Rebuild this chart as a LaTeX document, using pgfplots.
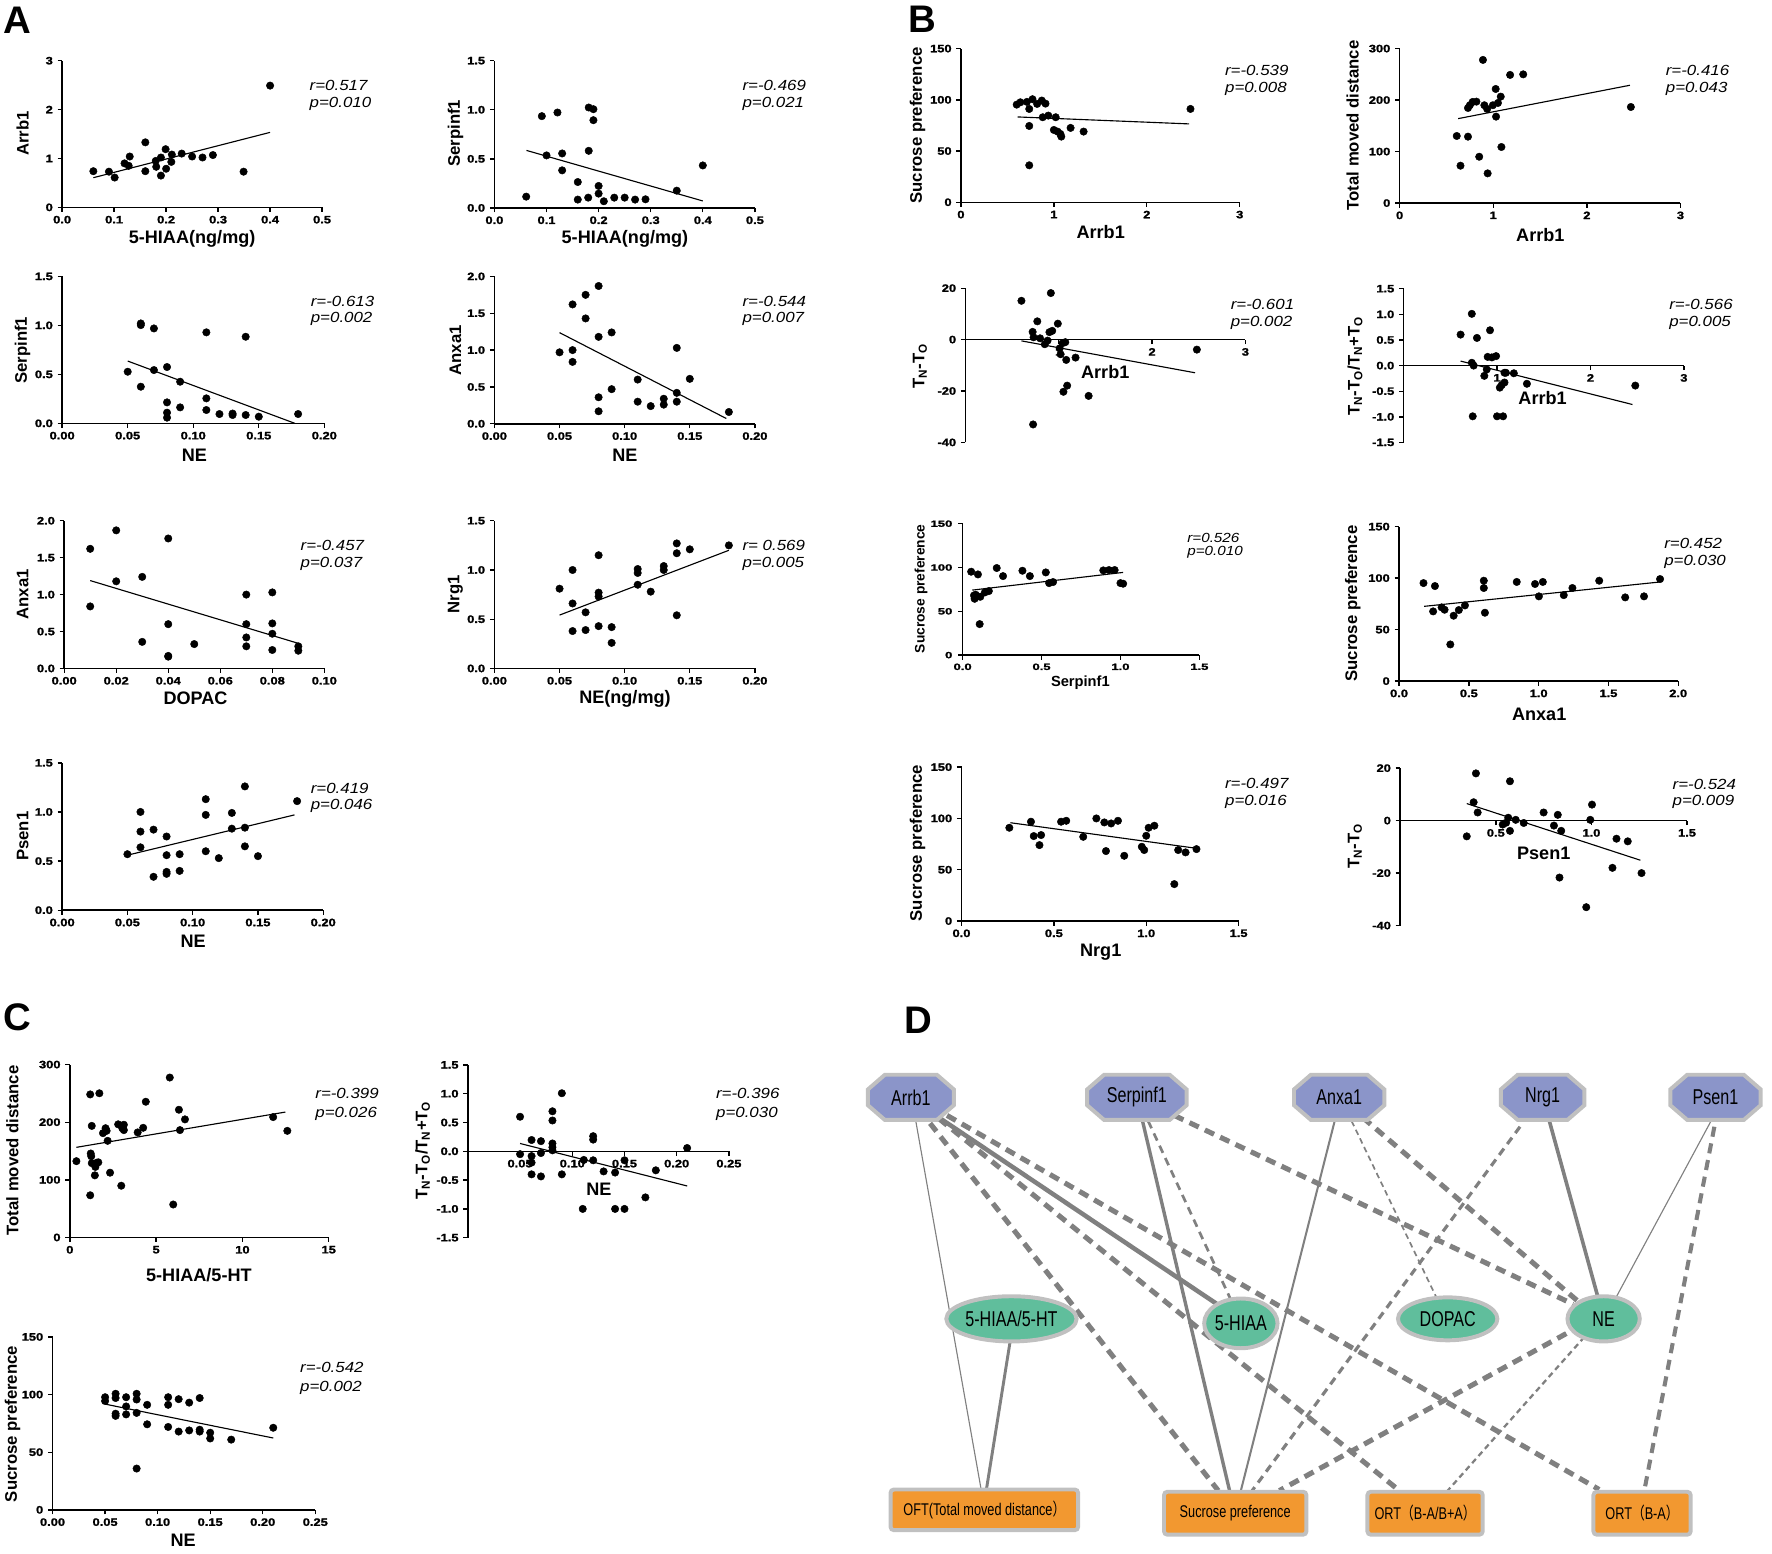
\documentclass[border=0pt]{standalone}
\usepackage{fontspec}
\setmainfont{Liberation Sans}
\newfontfamily\cjk{Noto Sans CJK SC}
\newfontfamily\tickfont[FakeBold=1.5]{Liberation Sans}
\usepackage{graphicx}
\usepackage{pgfplots}
\pgfplotsset{compat=1.18}
\usetikzlibrary{shapes.geometric}

\definecolor{edgegray}{RGB}{128,128,128}
\definecolor{octfill}{RGB}{139,149,201}
\definecolor{rimgray}{RGB}{192,192,192}
\definecolor{ellfill}{RGB}{96,190,156}
\definecolor{boxfill}{RGB}{242,152,48}

\newcommand{\fs}[1]{\fontsize{#1}{#1}\selectfont}

\pgfplotsset{
  prism/.style={
    scale only axis, clip=false, anchor=south west,
    axis y line*=left, axis x line*=bottom,
    axis line style={-, line width=1.3pt, black},
    tick align=outside, major tick length=4pt,
    tick style={black, line width=1.2pt},
    tick label style={font=\tickfont\bfseries\fs{9.5}, xscale=1.2},
    hide obscured x ticks=false, hide obscured y ticks=false,
  },
  dots/.style={only marks, mark=*, mark size=3.3pt, black},
  fit/.style={black, line width=1pt},
  thickdash/.style={edgegray, line width=4.5pt, dash pattern=on 9pt off 6pt},
}

% labels placed in picture units (1pt = 1 unit)
\newcommand{\xl}[3]{\node[font=\bfseries\fs{16}] at (#1pt,-#2pt) {#3};}
\newcommand{\yl}[3]{\node[font=\bfseries\fs{14.8}, rotate=90] at (#1pt,-#2pt) {#3};}
\newcommand{\rp}[5]{%
  \node[font=\itshape\fs{13}, xscale=1.15, anchor=west] at (#1pt,-#2pt) {#4};
  \node[font=\itshape\fs{13}, xscale=1.15, anchor=west] at (#1pt,-#3pt) {#5};}
\newcommand{\TT}{T\textsubscript{N}-T\textsubscript{O}}
\newcommand{\TTr}{T\textsubscript{N}-T\textsubscript{O}/T\textsubscript{N}+T\textsubscript{O}}

% network panel helpers
\newcommand{\dtext}[2]{\scalebox{0.75}[1]{\fs{#1}#2}}
\newcommand{\octnode}[5]{%
  \pgfmathsetmacro\xa{#1-#3/2}\pgfmathsetmacro\xb{#1-#3/2+15}%
  \pgfmathsetmacro\xc{#1+#3/2-15}\pgfmathsetmacro\xd{#1+#3/2}%
  \pgfmathsetmacro\ya{#2-#4/2}\pgfmathsetmacro\yb{#2-#4/2+13}%
  \pgfmathsetmacro\yc{#2+#4/2-13}\pgfmathsetmacro\yd{#2+#4/2}%
  \addplot[fill=octfill, draw=rimgray, line width=3.5pt] coordinates {(\xb,\ya) (\xc,\ya) (\xd,\yb) (\xd,\yc) (\xc,\yd) (\xb,\yd) (\xa,\yc) (\xa,\yb)} -- cycle;
  \node at (axis cs:#1,#2) {\dtext{19}{#5}};}
\newcommand{\ellnode}[5]{%
  \node[ellipse, fill=ellfill, draw=rimgray, line width=3.5pt, minimum width=#3pt, minimum height=#4pt, inner sep=0pt] at (axis cs:#1,#2) {\dtext{19}{#5}};}
\newcommand{\boxnode}[5]{%
  \node[rectangle, rounded corners=3pt, fill=boxfill, draw=rimgray, line width=3.5pt, minimum width=#3pt, minimum height=#4pt, inner sep=0pt] at (axis cs:#1,#2) {\dtext{15}{#5}};}

\begin{document}
\begin{tikzpicture}
\path[use as bounding box] (0,0) rectangle (1568pt,-1375pt);

% ---------------- A ----------------
\begin{axis}[prism, at={(55pt,-183.5pt)}, width=230pt, height=129.8pt,
  xmin=0, xmax=0.5, ymin=0, ymax=3,
  xtick={0,0.1,0.2,0.3,0.4,0.5}, xticklabels={0.0,0.1,0.2,0.3,0.4,0.5},
  ytick={0,1,2,3}, yticklabels={0,1,2,3}]
\addplot[dots] coordinates {(0.060,0.74) (0.090,0.73) (0.101,0.61) (0.120,0.90) (0.128,0.85) (0.130,1.04) (0.160,1.33) (0.160,0.74) (0.180,0.95) (0.181,0.83) (0.190,1.02) (0.190,0.65) (0.199,1.19) (0.200,0.79) (0.210,0.93) (0.211,1.08) (0.230,1.10) (0.250,1.04) (0.270,1.02) (0.290,1.07) (0.349,0.73) (0.400,2.49)};
\addplot[fit] coordinates {(0.06,0.607) (0.40,1.534)};
\end{axis}

\begin{axis}[prism, at={(437.5pt,-184pt)}, width=230.5pt, height=130.3pt,
  xmin=0, xmax=0.5, ymin=0, ymax=1.5,
  xtick={0,0.1,0.2,0.3,0.4,0.5}, xticklabels={0.0,0.1,0.2,0.3,0.4,0.5},
  ytick={0,0.5,1,1.5}, yticklabels={0.0,0.5,1.0,1.5}]
\addplot[dots] coordinates {(0.061,0.115) (0.091,0.935) (0.100,0.535) (0.121,0.972) (0.130,0.555) (0.130,0.383) (0.160,0.264) (0.160,0.085) (0.181,0.582) (0.181,1.023) (0.190,1.006) (0.190,0.894) (0.180,0.105) (0.200,0.224) (0.200,0.146) (0.210,0.068) (0.230,0.105) (0.250,0.105) (0.270,0.085) (0.290,0.088) (0.350,0.176) (0.400,0.433)};
\addplot[fit] coordinates {(0.0615,0.586) (0.40,0.071)};
\end{axis}

\begin{axis}[prism, at={(55pt,-374.6pt)}, width=232pt, height=130pt,
  xmin=0, xmax=0.2, ymin=0, ymax=1.5,
  xtick={0,0.05,0.1,0.15,0.2}, xticklabels={0.00,0.05,0.10,0.15,0.20},
  ytick={0,0.5,1,1.5}, yticklabels={0.0,0.5,1.0,1.5}]
\addplot[dots] coordinates {(0.050,0.527) (0.060,1.003) (0.060,1.02) (0.060,0.374) (0.070,0.969) (0.070,0.544) (0.080,0.575) (0.080,0.214) (0.080,0.109) (0.080,0.058) (0.090,0.425) (0.090,0.163) (0.110,0.929) (0.110,0.255) (0.110,0.136) (0.120,0.095) (0.130,0.085) (0.130,0.100) (0.140,0.085) (0.140,0.884) (0.150,0.068) (0.180,0.095)};
\addplot[fit] coordinates {(0.05,0.636) (0.1775,0)};
\end{axis}

\begin{axis}[prism, at={(437.5pt,-375pt)}, width=230.5pt, height=130.4pt,
  xmin=0, xmax=0.2, ymin=0, ymax=2,
  xtick={0,0.05,0.1,0.15,0.2}, xticklabels={0.00,0.05,0.10,0.15,0.20},
  ytick={0,0.5,1,1.5,2}, yticklabels={0.0,0.5,1.0,1.5,2.0}]
\addplot[dots] coordinates {(0.050,0.97) (0.060,1.62) (0.060,1.00) (0.060,0.84) (0.070,1.75) (0.070,1.43) (0.080,1.87) (0.080,1.18) (0.080,0.36) (0.080,0.17) (0.090,1.24) (0.090,0.47) (0.110,0.60) (0.110,0.30) (0.120,0.24) (0.130,0.34) (0.130,0.26) (0.140,1.03) (0.140,0.42) (0.140,0.30) (0.150,0.61) (0.180,0.16)};
\addplot[fit] coordinates {(0.05,1.237) (0.178,0.072)};
\end{axis}

\begin{axis}[prism, at={(56.8pt,-591.5pt)}, width=230.2pt, height=130.7pt,
  xmin=0, xmax=0.1, ymin=0, ymax=2,
  xtick={0,0.02,0.04,0.06,0.08,0.1}, xticklabels={0.00,0.02,0.04,0.06,0.08,0.10},
  ytick={0,0.5,1,1.5,2}, yticklabels={0.0,0.5,1.0,1.5,2.0}]
\addplot[dots] coordinates {(0.010,1.62) (0.010,0.84) (0.020,1.87) (0.020,1.18) (0.030,1.24) (0.030,0.36) (0.040,1.76) (0.040,0.60) (0.040,0.17) (0.040,0.16) (0.050,0.33) (0.070,1.00) (0.070,0.60) (0.070,0.42) (0.070,0.30) (0.080,1.03) (0.080,0.61) (0.080,0.47) (0.080,0.25) (0.090,0.30) (0.090,0.24)};
\addplot[fit] coordinates {(0.01,1.19) (0.09,0.34)};
\end{axis}

\begin{axis}[prism, at={(437.5pt,-591.5pt)}, width=230.5pt, height=130.7pt,
  xmin=0, xmax=0.2, ymin=0, ymax=1.5,
  xtick={0,0.05,0.1,0.15,0.2}, xticklabels={0.00,0.05,0.10,0.15,0.20},
  ytick={0,0.5,1,1.5}, yticklabels={0.0,0.5,1.0,1.5}]
\addplot[dots] coordinates {(0.050,0.81) (0.060,1.00) (0.060,0.66) (0.060,0.38) (0.070,0.57) (0.070,0.39) (0.080,1.15) (0.080,0.77) (0.080,0.73) (0.080,0.43) (0.090,0.42) (0.090,0.26) (0.110,1.01) (0.110,0.97) (0.110,0.85) (0.120,0.78) (0.130,1.04) (0.130,1.00) (0.140,1.27) (0.140,1.17) (0.140,0.54) (0.150,1.21) (0.180,1.25)};
\addplot[fit] coordinates {(0.05,0.542) (0.18,1.20)};
\end{axis}

\begin{axis}[prism, at={(55pt,-805.4pt)}, width=231pt, height=130.4pt,
  xmin=0, xmax=0.2, ymin=0, ymax=1.5,
  xtick={0,0.05,0.1,0.15,0.2}, xticklabels={0.00,0.05,0.10,0.15,0.20},
  ytick={0,0.5,1,1.5}, yticklabels={0.0,0.5,1.0,1.5}]
\addplot[dots] coordinates {(0.050,0.57) (0.060,1.00) (0.060,0.80) (0.060,0.64) (0.070,0.82) (0.070,0.34) (0.080,0.75) (0.080,0.56) (0.080,0.39) (0.080,0.37) (0.090,0.57) (0.090,0.40) (0.110,1.13) (0.110,0.97) (0.110,0.60) (0.120,0.53) (0.130,0.99) (0.130,0.83) (0.140,1.26) (0.140,0.84) (0.140,0.65) (0.150,0.55) (0.180,1.11)};
\addplot[fit] coordinates {(0.05,0.56) (0.178,0.97)};
\end{axis}

% ---------------- B ----------------
\begin{axis}[prism, at={(850.3pt,-179pt)}, width=246.7pt, height=136pt,
  xmin=0, xmax=3, ymin=0, ymax=150,
  xtick={0,1,2,3}, xticklabels={0,1,2,3},
  ytick={0,50,100,150}, yticklabels={0,50,100,150}]
\addplot[dots] coordinates {(0.60,95.3) (0.64,97.6) (0.71,98) (0.735,74.5) (0.735,36.1) (0.735,91.1) (0.77,100.6) (0.82,96) (0.87,99.3) (0.91,96.3) (0.88,83) (0.94,84.6) (1.02,83) (1.00,70.6) (1.04,69) (1.07,66.7) (1.08,64.1) (1.18,72.6) (1.32,69) (2.47,91.1)};
\addplot[fit] coordinates {(0.61,83.3) (2.455,76.5)};
\end{axis}

\begin{axis}[prism, at={(1238.5pt,-179.7pt)}, width=248.5pt, height=136.7pt,
  xmin=0, xmax=3, ymin=0, ymax=300,
  xtick={0,1,2,3}, xticklabels={0,1,2,3},
  ytick={0,100,200,300}, yticklabels={0,100,200,300}]
\addplot[dots] coordinates {(0.61,130.3) (0.65,72.6) (0.73,129) (0.73,184.7) (0.75,190) (0.78,196.4) (0.82,197) (0.85,90) (0.89,278) (0.905,190) (0.935,182.8) (0.94,57.7) (0.996,190) (1.026,221.6) (1.03,167.9) (1.05,194.4) (1.08,206.7) (1.087,108.9) (1.18,248.9) (1.32,250) (2.47,186.6)};
\addplot[fit] coordinates {(0.625,164) (2.46,228.8)};
\end{axis}

\begin{axis}[prism, axis x line*=middle, at={(854.3pt,-391.5pt)}, width=247.7pt, height=136.5pt,
  xmin=0, xmax=3, ymin=-40, ymax=20,
  xtick={1,2,3}, xticklabels={1,2,3},
  ytick={-40,-20,0,20}, yticklabels={-40,-20,0,20}]
\addplot[dots] coordinates {(0.60,15.1) (0.72,3.0) (0.73,0.9) (0.725,-33) (0.77,7.1) (0.80,0.5) (0.85,-1.8) (0.88,-0.4) (0.90,2.9) (0.915,18.1) (0.93,3.4) (0.99,6.2) (1.01,-3.4) (1.02,-5.7) (1.04,-1.4) (1.05,-20.3) (1.07,-1.0) (1.08,-7.9) (1.09,-17.9) (1.18,-7.0) (1.32,-21.9) (2.48,-3.9)};
\addplot[fit] coordinates {(0.60,-0.5) (2.46,-12.9)};
\end{axis}

\begin{axis}[prism, axis x line*=middle, at={(1242pt,-391.5pt)}, width=248pt, height=136pt,
  xmin=0, xmax=3, ymin=-1.5, ymax=1.5,
  xtick={1,2,3}, xticklabels={1,2,3},
  ytick={-1.5,-1,-0.5,0,0.5,1,1.5}, yticklabels={-1.5,-1.0,-0.5,0.0,0.5,1.0,1.5}]
\addplot[dots] coordinates {(0.61,0.605) (0.73,1.01) (0.73,0.055) (0.75,0.0) (0.74,-0.99) (0.785,0.54) (0.864,-0.20) (0.89,-0.075) (0.90,0.17) (0.925,0.69) (0.945,0.16) (0.99,0.185) (1.00,-0.99) (1.03,-0.43) (1.05,-0.38) (1.065,-0.99) (1.08,-0.33) (1.08,-0.14) (1.095,-0.14) (1.18,-0.15) (1.32,-0.355) (2.48,-0.39)};
\addplot[fit] coordinates {(0.61,0.088) (2.45,-0.76)};
\end{axis}

\begin{axis}[prism, at={(851.8pt,-579.7pt)}, width=209.5pt, height=116.3pt,
  tick label style={font=\tickfont\bfseries\fs{8}, xscale=1.2},
  xmin=0, xmax=1.5, ymin=0, ymax=150,
  xtick={0,0.5,1,1.5}, xticklabels={0.0,0.5,1.0,1.5},
  ytick={0,50,100,150}, yticklabels={0,50,100,150}]
\addplot[dots] coordinates {(0.054,95.2) (0.072,68.1) (0.076,64.3) (0.083,68.9) (0.09,66.6) (0.097,92.1) (0.108,35.4) (0.112,66.6) (0.141,71.6) (0.166,73.1) (0.216,99.4) (0.256,90.2) (0.379,96.3) (0.426,90.2) (0.527,94.4) (0.548,82.2) (0.573,83.4) (0.891,96.7) (0.927,97.1) (0.963,97.1) (1.00,82.2) (1.017,81.5)};
\addplot[fit] coordinates {(0.061,74.2) (1.017,94.4)};
\end{axis}

\begin{axis}[prism, at={(1238pt,-602.7pt)}, width=247pt, height=136.7pt,
  xmin=0, xmax=2, ymin=0, ymax=150,
  xtick={0,0.5,1,1.5,2}, xticklabels={0.0,0.5,1.0,1.5,2.0},
  ytick={0,50,100,150}, yticklabels={0,50,100,150}]
\addplot[dots] coordinates {(0.175,95.2) (0.244,67.7) (0.257,92.3) (0.305,71.6) (0.326,69.3) (0.367,35.6) (0.391,63.5) (0.428,69) (0.472,73.5) (0.607,97.5) (0.607,90.4) (0.615,66.4) (0.843,96.3) (0.974,94.3) (1.002,82.3) (1.03,96.3) (1.18,83.5) (1.242,90.4) (1.434,97.5) (1.62,81.3) (1.755,82.3) (1.87,99.1)};
\addplot[fit] coordinates {(0.179,72.6) (1.866,96.2)};
\end{axis}

\begin{axis}[prism, at={(850.8pt,-815pt)}, width=245.2pt, height=136.2pt,
  xmin=0, xmax=1.5, ymin=0, ymax=150,
  xtick={0,0.5,1,1.5}, xticklabels={0.0,0.5,1.0,1.5},
  ytick={0,50,100,150}, yticklabels={0,50,100,150}]
\addplot[dots] coordinates {(0.259,90.9) (0.376,96.8) (0.391,82.8) (0.422,74.0) (0.431,83.8) (0.539,96.8) (0.567,97.7) (0.659,82.1) (0.730,100) (0.773,96.1) (0.782,68.2) (0.81,95.1) (0.847,97.7) (0.881,63.6) (0.976,72.4) (0.989,69.2) (1.00,83.1) (1.013,90.9) (1.044,92.9) (1.152,36.0) (1.173,69.2) (1.213,66.9) (1.272,70.1)};
\addplot[fit] coordinates {(0.265,95.8) (1.275,70.8)};
\end{axis}

\begin{axis}[prism, axis x line*=middle, at={(1239pt,-819pt)}, width=253.8pt, height=139.3pt,
  xmin=0, xmax=1.5, ymin=-40, ymax=20,
  xtick={0.5,1,1.5}, xticklabels={0.5,1.0,1.5},
  ytick={-40,-20,0,20}, yticklabels={-40,-20,0,20}]
\addplot[dots] coordinates {(0.348,-6.0) (0.384,7.0) (0.396,18.0) (0.405,3.1) (0.536,-1.5) (0.554,-0.8) (0.565,1.1) (0.574,15.0) (0.574,-3.9) (0.604,0.3) (0.646,-0.9) (0.75,3.1) (0.804,-1.9) (0.824,2.2) (0.833,-21.7) (0.842,-3.9) (0.973,-33) (0.994,0.3) (1.003,6.1) (1.11,-18.0) (1.131,-6.9) (1.19,-7.9) (1.262,-20)};
\addplot[fit] coordinates {(0.348,6.5) (1.256,-15.1)};
\end{axis}

% ---------------- C ----------------
\begin{axis}[prism, at={(61.8pt,-1095pt)}, width=229.1pt, height=153pt,
  xmin=0, xmax=15, ymin=0, ymax=300,
  xtick={0,5,10,15}, xticklabels={0,5,10,15},
  ytick={0,100,200,300}, yticklabels={0,100,200,300}]
\addplot[dots] coordinates {(0.38,132.4) (1.18,248.2) (1.18,73.2) (1.21,145.7) (1.24,141) (1.27,193.6) (1.27,129) (1.48,122.4) (1.45,107.8) (1.56,129.7) (1.71,250.2) (1.65,130.4) (1.92,181) (2.07,189.6) (2.13,185) (2.19,167.7) (2.33,112.4) (2.80,196.3) (2.98,89.8) (3.04,189.6) (3.13,195.6) (3.13,186.3) (3.93,182.3) (4.25,190.3) (4.40,235.5) (5.79,277.5) (5.99,57.2) (6.32,221.6) (6.38,186.3) (6.67,204.9) (11.78,208.9) (12.6,185)};
\addplot[fit] coordinates {(0.38,156.4) (12.49,217.6)};
\end{axis}

\begin{axis}[prism, axis x line*=middle, at={(414pt,-1095.2pt)}, width=231pt, height=152.9pt,
  xmin=0, xmax=0.25, ymin=-1.5, ymax=1.5,
  xtick={0.05,0.1,0.15,0.2,0.25}, xticklabels={0.05,0.10,0.15,0.20,0.25},
  ytick={-1.5,-1,-0.5,0,0.5,1,1.5}, yticklabels={-1.5,-1.0,-0.5,0.0,0.5,1.0,1.5}]
\addplot[dots] coordinates {(0.050,0.60) (0.050,-0.05) (0.061,0.196) (0.061,-0.083) (0.061,-0.196) (0.061,-0.40) (0.070,0.176) (0.070,-0.03) (0.070,-0.436) (0.081,0.695) (0.081,0.535) (0.081,0.136) (0.081,0.07) (0.081,0.017) (0.090,1.008) (0.090,-0.40) (0.110,-1.0) (0.111,-0.15) (0.120,0.263) (0.120,0.203) (0.120,-0.156) (0.130,-0.349) (0.141,-0.369) (0.141,-1.0) (0.150,-0.156) (0.150,-1.0) (0.170,-0.80) (0.180,-0.33) (0.210,0.057)};
\addplot[fit] coordinates {(0.05,0.136) (0.21,-0.602)};
\end{axis}

\begin{axis}[prism, at={(46.5pt,-1336pt)}, width=232.5pt, height=153pt,
  xmin=0, xmax=0.25, ymin=0, ymax=150,
  xtick={0,0.05,0.1,0.15,0.2,0.25}, xticklabels={0.00,0.05,0.10,0.15,0.20,0.25},
  ytick={0,50,100,150}, yticklabels={0,50,100,150}]
\addplot[dots] coordinates {(0.050,97.7) (0.050,94.4) (0.060,100.7) (0.060,97) (0.060,83.4) (0.060,81.5) (0.070,97.7) (0.070,89.7) (0.070,82.8) (0.080,100.7) (0.080,95.7) (0.080,84.1) (0.080,35.8) (0.090,91.1) (0.090,74.2) (0.110,97.7) (0.110,91.1) (0.110,71.9) (0.120,96) (0.120,67.9) (0.130,93) (0.130,68.9) (0.140,97) (0.140,69.5) (0.140,67.9) (0.150,66.9) (0.150,61.9) (0.170,60.9) (0.210,71.2)};
\addplot[fit] coordinates {(0.05,91.7) (0.21,62.3)};
\end{axis}

% ---------------- D (network) ----------------
\begin{axis}[hide axis, scale only axis, clip=false, anchor=north west,
  at={(760pt,-930pt)}, width=808pt, height=445pt,
  xmin=760, xmax=1568, ymin=930, ymax=1375, y dir=reverse]
% edges
\addplot[edgegray, line width=1pt] coordinates {(810,990) (868,1317)};
\addplot[edgegray, line width=2.6pt] coordinates {(894,1186) (873,1317)};
\addplot[edgegray, line width=4pt] coordinates {(828,987) (1080,1156)};
\addplot[thickdash] coordinates {(823,994) (1078,1319)};
\addplot[thickdash] coordinates {(831,990) (1237,1318)};
\addplot[thickdash] coordinates {(838,987) (1415,1318)};
\addplot[edgegray, line width=3pt] coordinates {(1011,992) (1088,1319)};
\addplot[edgegray, line width=2.4pt, dash pattern=on 7pt off 5pt] coordinates {(1016,992) (1090,1152)};
\addplot[thickdash] coordinates {(1039,987) (1392,1154)};
\addplot[edgegray, line width=1.8pt] coordinates {(1181,992) (1098,1319)};
\addplot[edgegray, line width=1.5pt, dash pattern=on 5pt off 3.5pt] coordinates {(1196,992) (1271,1148)};
\addplot[thickdash] coordinates {(1206,989) (1397,1152)};
\addplot[edgegray, line width=2.8pt, dash pattern=on 7pt off 5pt] coordinates {(1345,997) (1108,1319)};
\addplot[edgegray, line width=3.2pt] coordinates {(1371,992) (1414,1148)};
\addplot[edgegray, line width=1pt] coordinates {(1514,992) (1430,1148)};
\addplot[edgegray, line width=3.6pt, dash pattern=on 9pt off 6pt] coordinates {(1517,997) (1455,1319)};
\addplot[thickdash] coordinates {(1386,1180) (1132,1319)};
\addplot[edgegray, line width=2pt, dash pattern=on 5pt off 3.5pt] coordinates {(1402,1183) (1281,1319)};
% nodes
\octnode{806}{971}{76}{40}{Arrb1}
\octnode{1006}{971}{88}{40}{Serpinf1}
\octnode{1185}{971}{80}{40}{Anxa1}
\octnode{1365}{971}{74}{40}{Nrg1}
\octnode{1518}{971}{80}{40}{Psen1}
\ellnode{895}{1167}{96}{40}{5-HIAA/5-HT}
\ellnode{1098}{1171}{58}{44}{5-HIAA}
\ellnode{1281}{1167}{88}{38}{DOPAC}
\ellnode{1419}{1167}{64}{40}{NE}
\boxnode{871}{1336}{166}{36}{OFT(Total moved distance{\cjk ）}}
\boxnode{1093}{1339}{126}{38}{Sucrose preference}
\boxnode{1261}{1339}{102}{38}{ORT{\cjk （}B-A/B+A{\cjk ）}}
\boxnode{1453}{1339}{86}{38}{ORT{\cjk （}B-A{\cjk ）}}
\end{axis}

% ---------------- texts ----------------
\node[font=\bfseries\fs{34}] at (15pt,-18pt) {A};
\node[font=\bfseries\fs{34}] at (816pt,-17pt) {B};
\node[font=\bfseries\fs{34}] at (15pt,-900pt) {C};
\node[font=\bfseries\fs{34}] at (813pt,-903pt) {D};

\xl{170}{211}{5-HIAA(ng/mg)}  \yl{20}{118}{Arrb1}
\xl{553}{211}{5-HIAA(ng/mg)}  \yl{403}{118}{Serpinf1}
\xl{172}{403}{NE}             \yl{20}{310}{Serpinf1}
\xl{553}{403}{NE}             \yl{403}{310}{Anxa1}
\xl{173}{618}{DOPAC}          \yl{20}{526}{Anxa1}
\xl{553}{618}{NE(ng/mg)}      \yl{403}{526}{Nrg1}
\xl{171}{833}{NE}             \yl{20}{740}{Psen1}

\xl{974}{205}{Arrb1}          \yl{812}{111}{Sucrose preference}
\xl{1363}{208}{Arrb1}         \yl{1197}{111}{Total moved distance}
\xl{978}{329}{Arrb1}          \yl{814}{324}{\TT}
\xl{1365}{352}{Arrb1}         \yl{1199}{324}{\TTr}
\node[font=\bfseries\fs{13}] at (956pt,-604pt) {Serpinf1};
\node[font=\bfseries\fs{12.2}, rotate=90] at (815pt,-521pt) {Sucrose preference};
\xl{1362}{632}{Anxa1}         \yl{1197}{534}{Sucrose preference}
\xl{974}{843}{Nrg1}           \yl{812}{746}{Sucrose preference}
\xl{1366}{755}{Psen1}         \yl{1199}{749}{\TT}

\xl{176}{1128}{5-HIAA/5-HT}   \yl{11}{1018}{Total moved distance}
\xl{530}{1052}{NE}            \yl{374}{1018}{\TTr}
\xl{162}{1363}{NE}            \yl{11}{1260}{Sucrose preference}

\rp{270}{76}{91.5}{r=0.517}{p=0.010}
\rp{653}{76}{91.5}{r=-0.469}{p=0.021}
\rp{271}{267}{282.6}{r=-0.613}{p=0.002}
\rp{653}{267}{282.6}{r=-0.544}{p=0.007}
\rp{262}{483}{498.6}{r=-0.457}{p=0.037}
\rp{653}{483}{498.6}{r= 0.569}{p=0.005}
\rp{271}{697.7}{712.7}{r=0.419}{p=0.046}

\rp{1080}{62.5}{78.5}{r=-0.539}{p=0.008}
\rp{1470}{62.5}{78.5}{r=-0.416}{p=0.043}
\rp{1085}{269}{285.3}{r=-0.601}{p=0.002}
\rp{1473}{269}{285.3}{r=-0.566}{p=0.005}
\node[font=\itshape\fs{11.7}, xscale=1.15, anchor=west] at (1046.6pt,-475.8pt) {r=0.526};
\node[font=\itshape\fs{11.7}, xscale=1.15, anchor=west] at (1046.6pt,-489.1pt) {p=0.010};
\rp{1468.6}{481}{496.8}{r=0.452}{p=0.030}
\rp{1080}{693.3}{709.5}{r=-0.497}{p=0.016}
\rp{1476}{694}{710}{r=-0.524}{p=0.009}

\rp{275}{967.7}{985.7}{r=-0.399}{p=0.026}
\rp{629.6}{967.7}{985.7}{r=-0.396}{p=0.030}
\rp{261.6}{1210}{1228}{r=-0.542}{p=0.002}
\end{tikzpicture}
\end{document}
